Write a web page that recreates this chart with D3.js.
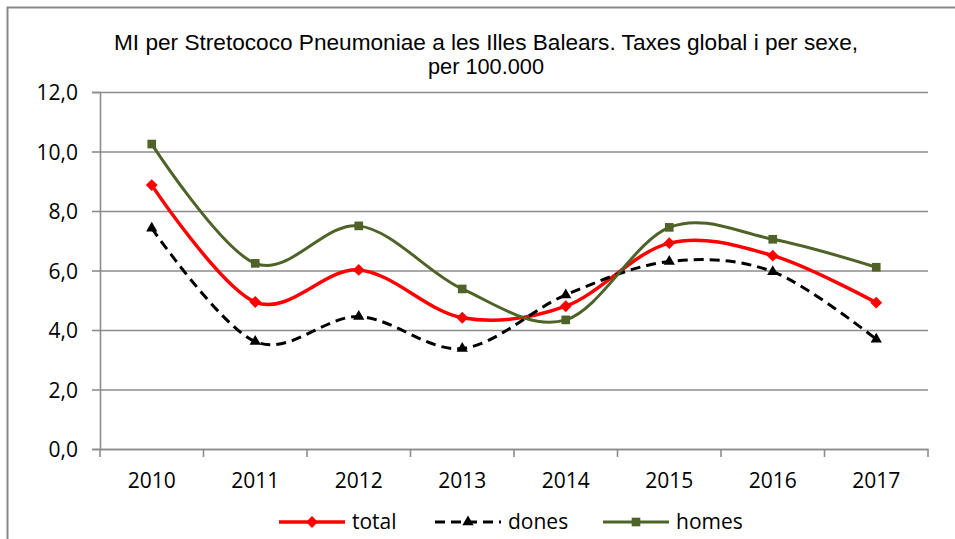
<!DOCTYPE html>
<html>
<head>
<meta charset="utf-8">
<script src="https://cdn.jsdelivr.net/npm/d3@7"></script>
<style>
  html, body { margin: 0; padding: 0; background: #fff; }
  svg text { font-family: "Open Sans", Lato, sans-serif; fill: #000; }
</style>
</head>
<body>
<div id="chart"></div>
<script>
const years = ['2010', '2011', '2012', '2013', '2014', '2015', '2016', '2017'];
const total = [8.87, 4.94, 6.02, 4.41, 4.80, 6.92, 6.50, 4.92];
const dones = [7.42, 3.61, 4.45, 3.38, 5.18, 6.30, 5.96, 3.69];
const homes = [10.25, 6.24, 7.50, 5.38, 4.34, 7.45, 7.05, 6.11];
const yTicks = [0, 2, 4, 6, 8, 10, 12];
const titleLines = ['MI per Stretococo Pneumoniae a les Illes Balears. Taxes global i per sexe,', 'per 100.000'];

const W = 955, H = 539;
const margin = { top: 92, right: 27, bottom: 90, left: 100 };
const width = W - margin.left - margin.right;
const height = H - margin.top - margin.bottom;

const svg = d3.select('#chart').append('svg')
    .attr('width', W)
    .attr('height', H);

// chart border (only left and top are inside the frame)
svg.append('rect')
    .attr('x', 7.5).attr('y', 7.5)
    .attr('width', W + 20).attr('height', H + 20)
    .attr('fill', 'none')
    .attr('stroke', '#898989')
    .attr('stroke-width', 2);

// title, squeezed like the original condensed font
const title = svg.append('g').attr('class', 'title');
title.append('text')
    .attr('x', 486).attr('y', 50)
    .attr('text-anchor', 'middle')
    .attr('textLength', 744)
    .attr('lengthAdjust', 'spacingAndGlyphs')
    .style('font-family', '"Liberation Sans", Arial, sans-serif')
    .style('font-size', '22px')
    .text(titleLines[0]);
title.append('text')
    .attr('x', 486).attr('y', 74)
    .attr('text-anchor', 'middle')
    .attr('textLength', 116)
    .attr('lengthAdjust', 'spacingAndGlyphs')
    .style('font-family', '"Liberation Sans", Arial, sans-serif')
    .style('font-size', '22px')
    .text(titleLines[1]);

const g = svg.append('g').attr('transform', `translate(${margin.left},${margin.top})`);

const x = d3.scaleBand().domain(years).range([0, width]).padding(0);
const y = d3.scaleLinear().domain([0, 12]).range([height, 0]);

// gridlines
g.append('g')
    .attr('class', 'grid')
    .call(d3.axisLeft(y).tickValues(yTicks).tickSize(-width).tickFormat(''))
    .call(s => s.select('.domain').remove())
    .call(s => s.selectAll('line').attr('stroke', '#8c8c8c').attr('stroke-width', 1.6));

// y axis
g.append('g')
    .attr('class', 'y axis')
    .call(d3.axisLeft(y).tickValues(yTicks).tickSize(8).tickPadding(14)
        .tickFormat(d => d.toFixed(1).replace('.', ',')))
    .call(s => s.select('.domain').attr('stroke', '#8c8c8c').attr('stroke-width', 1.6))
    .call(s => s.selectAll('line').attr('stroke', '#8c8c8c').attr('stroke-width', 1.6))
    .call(s => s.selectAll('text').style('font-size', '21px').attr('dy', '0.36em'));

// x axis
const xAxis = g.append('g')
    .attr('class', 'x axis')
    .attr('transform', `translate(0,${height})`)
    .call(d3.axisBottom(x).tickSize(0).tickPadding(24))
    .call(s => s.select('.domain').attr('stroke', '#8c8c8c').attr('stroke-width', 1.6))
    .call(s => s.selectAll('text').style('font-size', '21px'));

xAxis.selectAll('.boundary')
    .data(years.map(d => x(d)).concat([x.range()[1]]))
    .enter().append('line')
    .attr('class', 'boundary')
    .attr('x1', d => d).attr('x2', d => d)
    .attr('y1', 0).attr('y2', 8)
    .attr('stroke', '#8c8c8c')
    .attr('stroke-width', 1.6);

const series = [
    { name: 'total', values: total, color: '#FF0000', width: 3.5, dash: null, marker: 'diamond' },
    { name: 'dones', values: dones, color: '#000000', width: 3, dash: '10,6', marker: 'triangle' },
    { name: 'homes', values: homes, color: '#4F6228', width: 3, dash: null, marker: 'square' }
];

const cx = i => x(years[i]) + x.bandwidth() / 2;
const line = d3.line()
    .x((d, i) => cx(i))
    .y(d => y(d))
    .curve(d3.curveCardinal.tension(0));

const symbolOf = {
    diamond: d3.symbol().type(d3.symbolDiamond2).size(90),
    triangle: d3.symbol().type(d3.symbolTriangle).size(55),
    square: d3.symbol().type(d3.symbolSquare).size(75)
};

series.forEach(s => {
    g.append('path')
        .datum(s.values)
        .attr('d', line)
        .attr('fill', 'none')
        .attr('stroke', s.color)
        .attr('stroke-width', s.width)
        .attr('stroke-dasharray', s.dash);

    g.selectAll(`.m-${s.name}`)
        .data(s.values)
        .enter().append('path')
        .attr('class', `m-${s.name}`)
        .attr('transform', (d, i) => `translate(${cx(i)},${y(d)})`)
        .attr('d', symbolOf[s.marker])
        .attr('fill', s.color);
});

// legend
const legendX = [279, 435, 603];
const legend = svg.append('g').attr('class', 'legend');
series.forEach((s, i) => {
    const lg = legend.append('g').attr('transform', `translate(${legendX[i]},522)`);
    lg.append('line')
        .attr('x1', 0).attr('x2', 66)
        .attr('y1', 0).attr('y2', 0)
        .attr('stroke', s.color)
        .attr('stroke-width', s.width)
        .attr('stroke-dasharray', s.dash);
    lg.append('path')
        .attr('transform', 'translate(33,0)')
        .attr('d', symbolOf[s.marker])
        .attr('fill', s.color);
    lg.append('text')
        .attr('x', 73).attr('y', 0)
        .attr('dy', '0.35em')
        .style('font-size', '21px')
        .text(s.name);
});
</script>
</body>
</html>
